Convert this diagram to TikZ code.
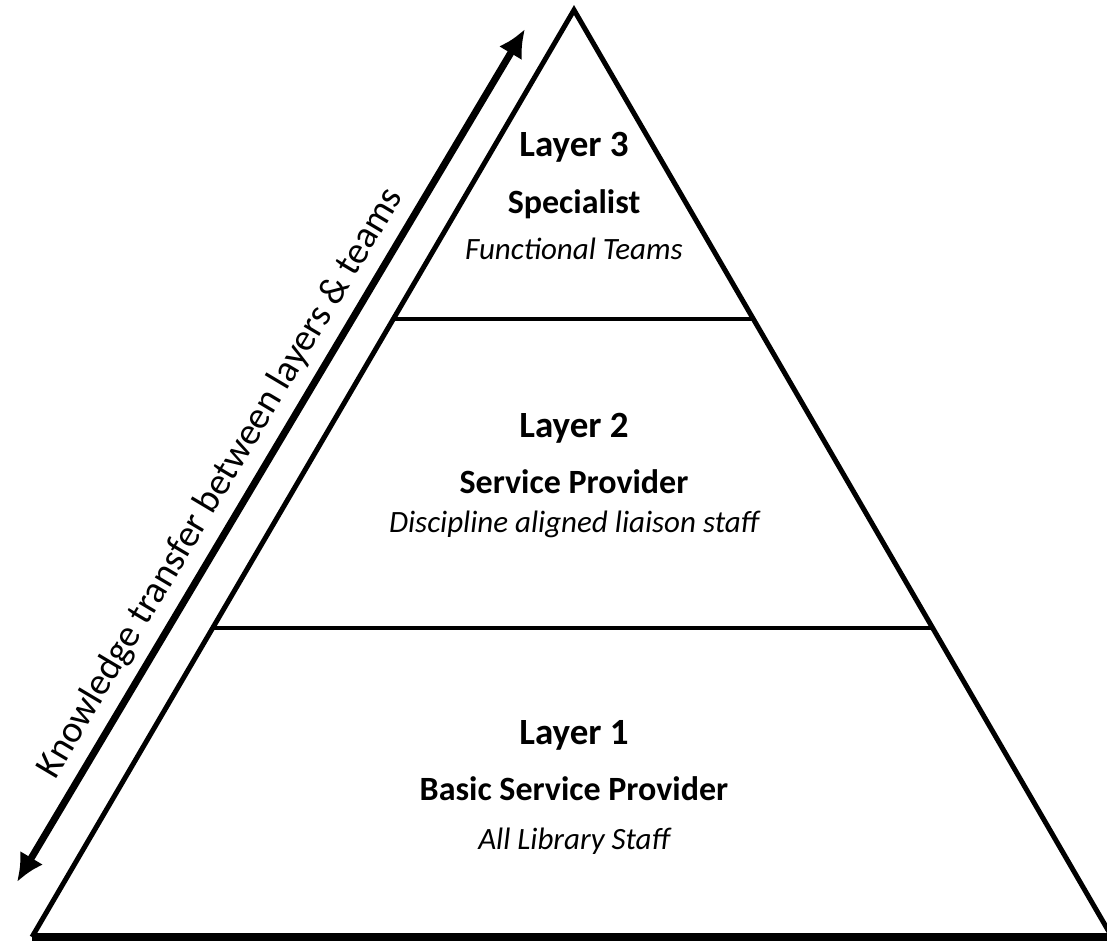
\documentclass[tikz,border=0pt]{standalone}
\usepackage{fontspec}
\setmainfont{Carlito}
\usetikzlibrary{arrows.meta}
\tikzset{
  layername/.style={font=\bfseries\fontsize{37}{42}\selectfont,anchor=base,inner sep=0pt},
  layerrole/.style={font=\bfseries\fontsize{34}{40}\selectfont,anchor=base,inner sep=0pt},
  layerteam/.style={font=\itshape\fontsize{31}{36}\selectfont,anchor=base,inner sep=0pt},
  transfer/.style={{Latex[length=28pt,width=27pt]}-{Latex[length=28pt,width=27pt]},line width=7pt}
}
\begin{document}
\begin{tikzpicture}[x=1pt,y=-1pt]
\useasboundingbox (0,0) rectangle (1107,943);
\coordinate (top) at (574,10);
\coordinate (bl) at (32,937);
\coordinate (br) at (1112,937);
\draw[line width=5pt,line join=miter](bl)--(top)--(br);
\draw[line width=8pt](bl)--(br);
\path (top)--(bl) coordinate[pos=1/3](l3) coordinate[pos=2/3](l2);
\path (top)--(br) coordinate[pos=1/3](r3) coordinate[pos=2/3](r2);
\draw[line width=4.5pt](l3)--(r3);
\draw[line width=4.5pt](l2)--(r2);
\node[layername](n3) at (574,156){Layer 3};
\node[layerrole](s3) at (574,213){Specialist};
\node[layerteam](t3) at (574,259){Functional Teams};
\node[layername](n2) at (574,437){Layer 2};
\node[layerrole](s2) at (574,493){Service Provider};
\node[layerteam](t2) at (574,532){Discipline aligned liaison staff};
\node[layername](n1) at (574,744){Layer 1};
\node[layerrole](s1) at (574,800){Basic Service Provider};
\node[layerteam](t1) at (574,849){All Library Staff};
\coordinate (down) at (17,882);
\coordinate (up) at (525,29);
\draw[transfer](down)--node[sloped,above=9pt,pos=0.45,inner sep=0pt,font=\fontsize{38}{44}\selectfont](know){Knowledge transfer between layers \& teams}(up);
\end{tikzpicture}
\end{document}
